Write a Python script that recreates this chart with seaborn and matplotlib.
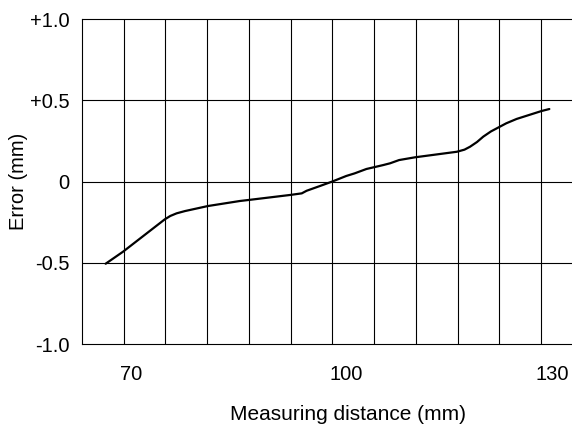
import numpy as np
import pandas as pd
import matplotlib
matplotlib.use("Agg")
import matplotlib.pyplot as plt
import matplotlib.transforms as mtransforms
import seaborn as sns

# ---- data ----
distance_mm = [67.4, 69.9, 75.9, 76.7, 77.6, 78.8, 82.1, 86.7, 87.9, 93.9, 95.6,
               96.3, 98.2, 100.0, 102.0, 103.2, 104.9, 105.9, 107.3, 108.3,
               109.6, 111.9, 117.9, 119.0, 119.8, 120.8, 121.7, 122.8, 123.9,
               125.0, 126.5, 130.1, 131.2]
error_mm = [-0.506, -0.432, -0.233, -0.212, -0.196, -0.182, -0.151, -0.120,
            -0.114, -0.083, -0.073, -0.057, -0.028, 0.000, 0.034, 0.050, 0.077,
            0.087, 0.101, 0.112, 0.132, 0.149, 0.183, 0.196, 0.214, 0.243,
            0.276, 0.308, 0.333, 0.358, 0.385, 0.434, 0.446]
x_ticks = [70, 100, 130]
x_tick_labels = ["70", "100", "130"]
y_ticks = [-1.0, -0.5, 0.0, 0.5, 1.0]
y_tick_labels = ["-1.0", "-0.5", "0", "+0.5", "+1.0"]
x_grid = [70, 76, 82, 88, 94, 100, 106, 112, 118, 124, 130]

df = pd.DataFrame({"distance": distance_mm, "error": error_mm})

sns.set_theme(style="white")
plt.rcParams["font.family"] = ["Liberation Sans", "DejaVu Sans"]

fig = plt.figure(figsize=(5.72, 4.25), dpi=100)
ax = fig.add_axes([82 / 572, 81 / 425, 490 / 572, 325 / 425])

sns.lineplot(data=df, x="distance", y="error", ax=ax, color="black",
             linewidth=1.6, sort=False)

ax.set_xlim(64, 134.46)
ax.set_ylim(-1.0, 1.0)

for gx in x_grid:
    ax.axvline(gx, color="black", linewidth=0.8, zorder=0)
for gy in y_ticks[1:-1]:
    ax.axhline(gy, color="black", linewidth=0.8, zorder=0)

ax.set_xticks(x_ticks)
ax.set_xticklabels(x_tick_labels)
ax.set_yticks(y_ticks)
ax.set_yticklabels(y_tick_labels)
ax.tick_params(axis="both", length=0, labelsize=14.5, colors="black")
ax.tick_params(axis="x", pad=15)
ax.tick_params(axis="y", pad=9)

for side in ["left", "top", "bottom"]:
    ax.spines[side].set_color("black")
    ax.spines[side].set_linewidth(0.8)
ax.spines["right"].set_visible(False)

offsets_px = [7, 14, 11]
for lab, dx in zip(ax.get_xticklabels(), offsets_px):
    off = mtransforms.ScaledTranslation(dx / 100, 0, fig.dpi_scale_trans)
    lab.set_transform(lab.get_transform() + off)

ax.set_xlabel("Measuring distance (mm)", fontsize=15, color="black")
ax.set_ylabel("Error (mm)", fontsize=14.5, color="black")
ax.xaxis.set_label_coords((348 - 82) / 490, -0.187)
ax.yaxis.set_label_coords((28 - 82) / 490, 0.5)

fig.savefig("out.png", dpi=100)
